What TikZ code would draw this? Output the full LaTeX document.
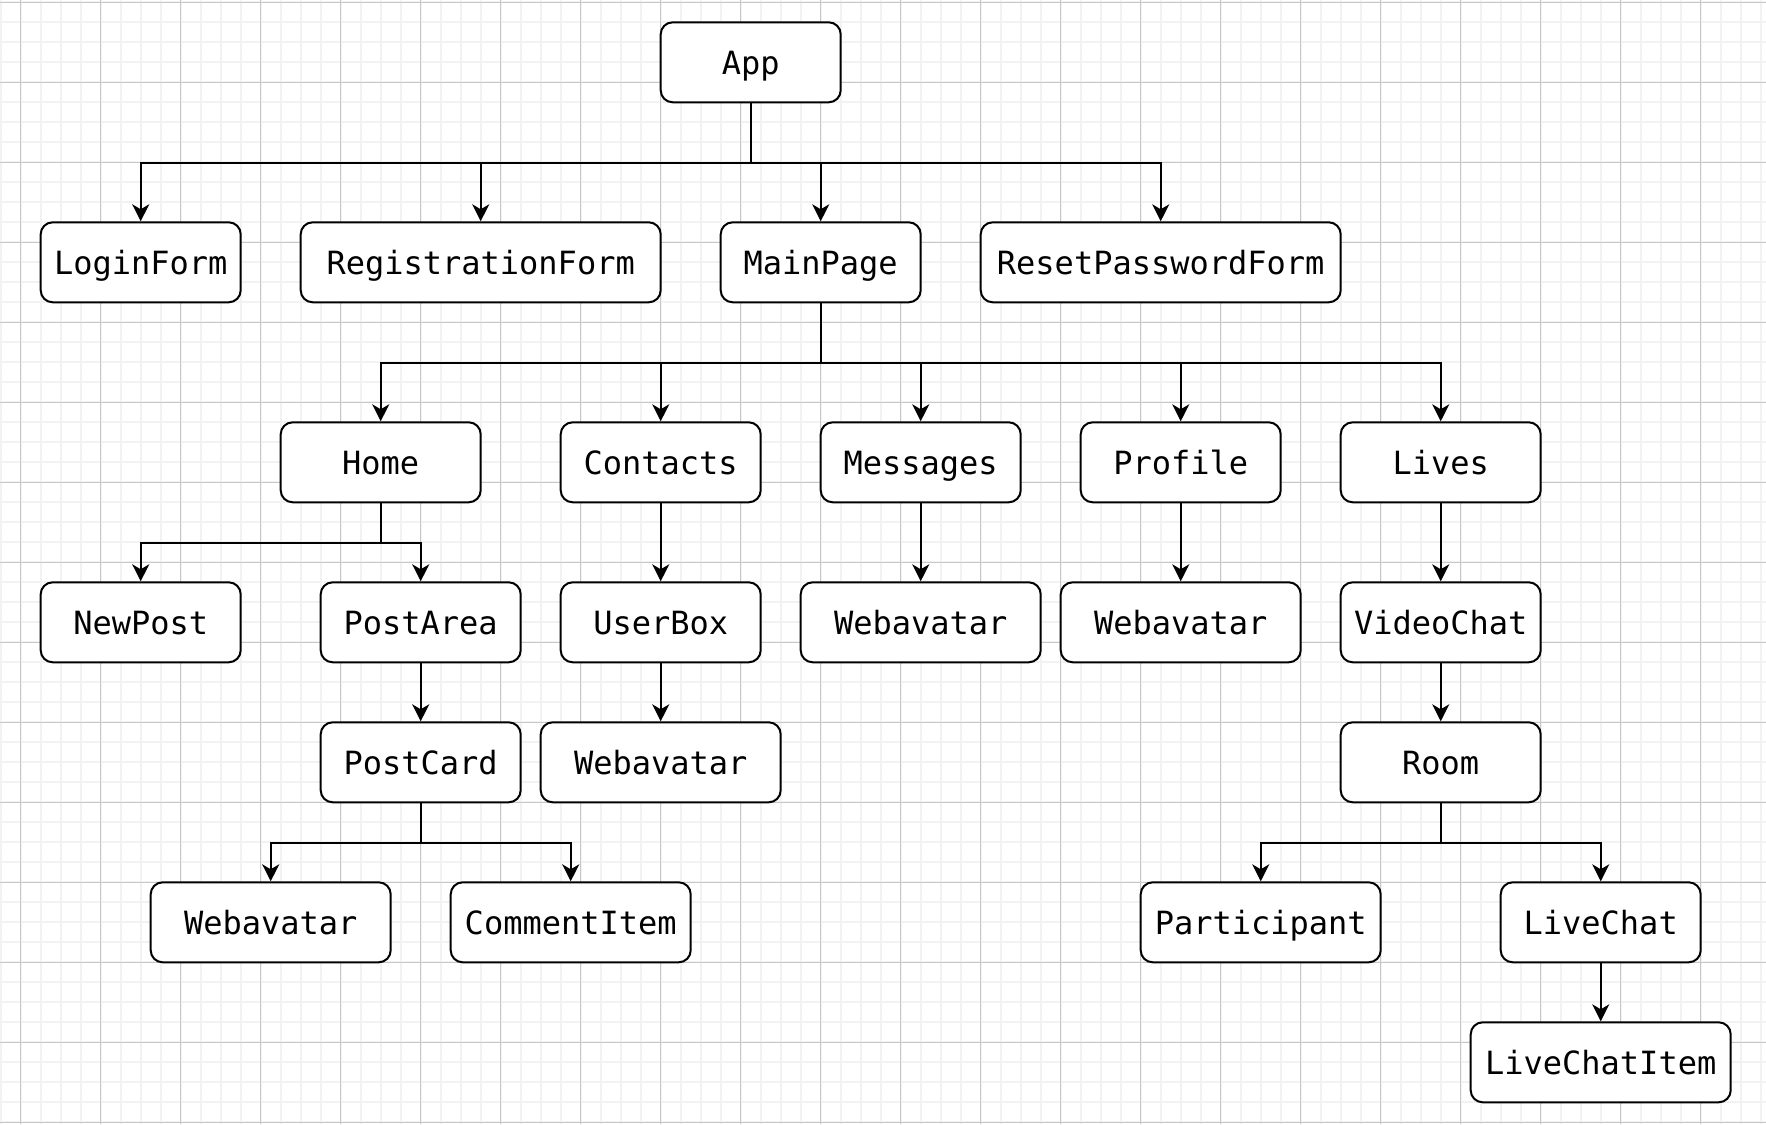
\documentclass[tikz,border=0pt]{standalone}
\usepackage{fontspec}
\newfontfamily\boxfont{DejaVu Sans Mono}
\usetikzlibrary{arrows.meta}
\definecolor{minorgrid}{HTML}{F2F2F2}
\definecolor{majorgrid}{HTML}{C8C8C8}
\tikzset{
  minorline/.style={draw=minorgrid, line width=1pt},
  majorline/.style={draw=majorgrid, line width=0.55pt},
  compbox/.style={draw=black, fill=white, line width=1pt, rounded corners=6pt,
    minimum height=40pt, inner sep=0pt, text=black,
    text height=11.7pt, text depth=0pt,
    font=\boxfont\fontsize{16}{19}\selectfont},
  w100/.style={compbox, minimum width=100pt},
  w120/.style={compbox, minimum width=120pt},
  w130/.style={compbox, minimum width=130pt},
  w180/.style={compbox, minimum width=180pt},
  w90/.style={compbox, minimum width=90pt},
  conn/.style={draw=black, line width=1pt,
    -{Stealth[length=8.5pt, width=8.5pt, inset=2.5pt]}},
}
\begin{document}
\begin{tikzpicture}[x=0.5pt, y=-0.5pt]
\useasboundingbox (0,0) rectangle (1766,1124);
\fill[white] (0,0) rectangle (1766,1124);
% grid
\foreach \i in {0,...,88} \draw[minorline] ({0.7+20*\i},0) -- ({0.7+20*\i},1124);
\foreach \i in {0,...,56} \draw[minorline] (0,{2.3+20*\i}) -- (1766,{2.3+20*\i});
\foreach \i in {0,...,21} \draw[majorline] ({20.7+80*\i},0) -- ({20.7+80*\i},1124);
\foreach \i in {0,...,14} \draw[majorline] (0,{2.3+80*\i}) -- (1766,{2.3+80*\i});

% nodes
\node[w90]  (app)   at (750.7,62.3)  {App};
\node[w100] (login) at (140.7,262.3) {LoginForm};
\node[w180] (reg)   at (480.7,262.3) {RegistrationForm};
\node[w100] (main)  at (820.7,262.3) {MainPage};
\node[w180] (reset) at (1160.7,262.3) {ResetPasswordForm};

\node[w100] (home)     at (380.7,462.3)  {Home};
\node[w100] (contacts) at (660.7,462.3)  {Contacts};
\node[w100] (messages) at (920.7,462.3)  {Messages};
\node[w100] (profile)  at (1180.7,462.3) {Profile};
\node[w100] (lives)    at (1440.7,462.3) {Lives};

\node[w100] (newpost)  at (140.7,622.3)  {NewPost};
\node[w100] (postarea) at (420.7,622.3)  {PostArea};
\node[w100] (userbox)  at (660.7,622.3)  {UserBox};
\node[w120] (webmsg)   at (920.7,622.3)  {Webavatar};
\node[w120] (webprof)  at (1180.7,622.3) {Webavatar};
\node[w100] (video)    at (1440.7,622.3) {VideoChat};

\node[w100] (postcard) at (420.7,762.3)  {PostCard};
\node[w120] (webuser)  at (660.7,762.3)  {Webavatar};
\node[w100] (room)     at (1440.7,762.3) {Room};

\node[w120] (webpost)  at (270.7,922.3)  {Webavatar};
\node[w120] (comment)  at (570.7,922.3)  {CommentItem};
\node[w120] (part)     at (1260.7,922.3) {Participant};
\node[w100] (livechat) at (1600.7,922.3) {LiveChat};

\node[w130] (lcitem)   at (1600.7,1062.3) {LiveChatItem};

% connectors
\foreach \t in {login,reg,main,reset}
  \draw[conn] (app.south) -- ++(0,60) -| (\t.north);
\foreach \t in {home,contacts,messages,profile,lives}
  \draw[conn] (main.south) -- ++(0,60) -| (\t.north);
\foreach \t in {newpost,postarea}
  \draw[conn] (home.south) -- ++(0,40) -| (\t.north);
\draw[conn] (contacts.south) -- (userbox.north);
\draw[conn] (messages.south) -- (webmsg.north);
\draw[conn] (profile.south) -- (webprof.north);
\draw[conn] (lives.south) -- (video.north);
\draw[conn] (postarea.south) -- (postcard.north);
\draw[conn] (userbox.south) -- (webuser.north);
\draw[conn] (video.south) -- (room.north);
\foreach \t in {webpost,comment}
  \draw[conn] (postcard.south) -- ++(0,40) -| (\t.north);
\foreach \t in {part,livechat}
  \draw[conn] (room.south) -- ++(0,40) -| (\t.north);
\draw[conn] (livechat.south) -- (lcitem.north);
\end{tikzpicture}
\end{document}
